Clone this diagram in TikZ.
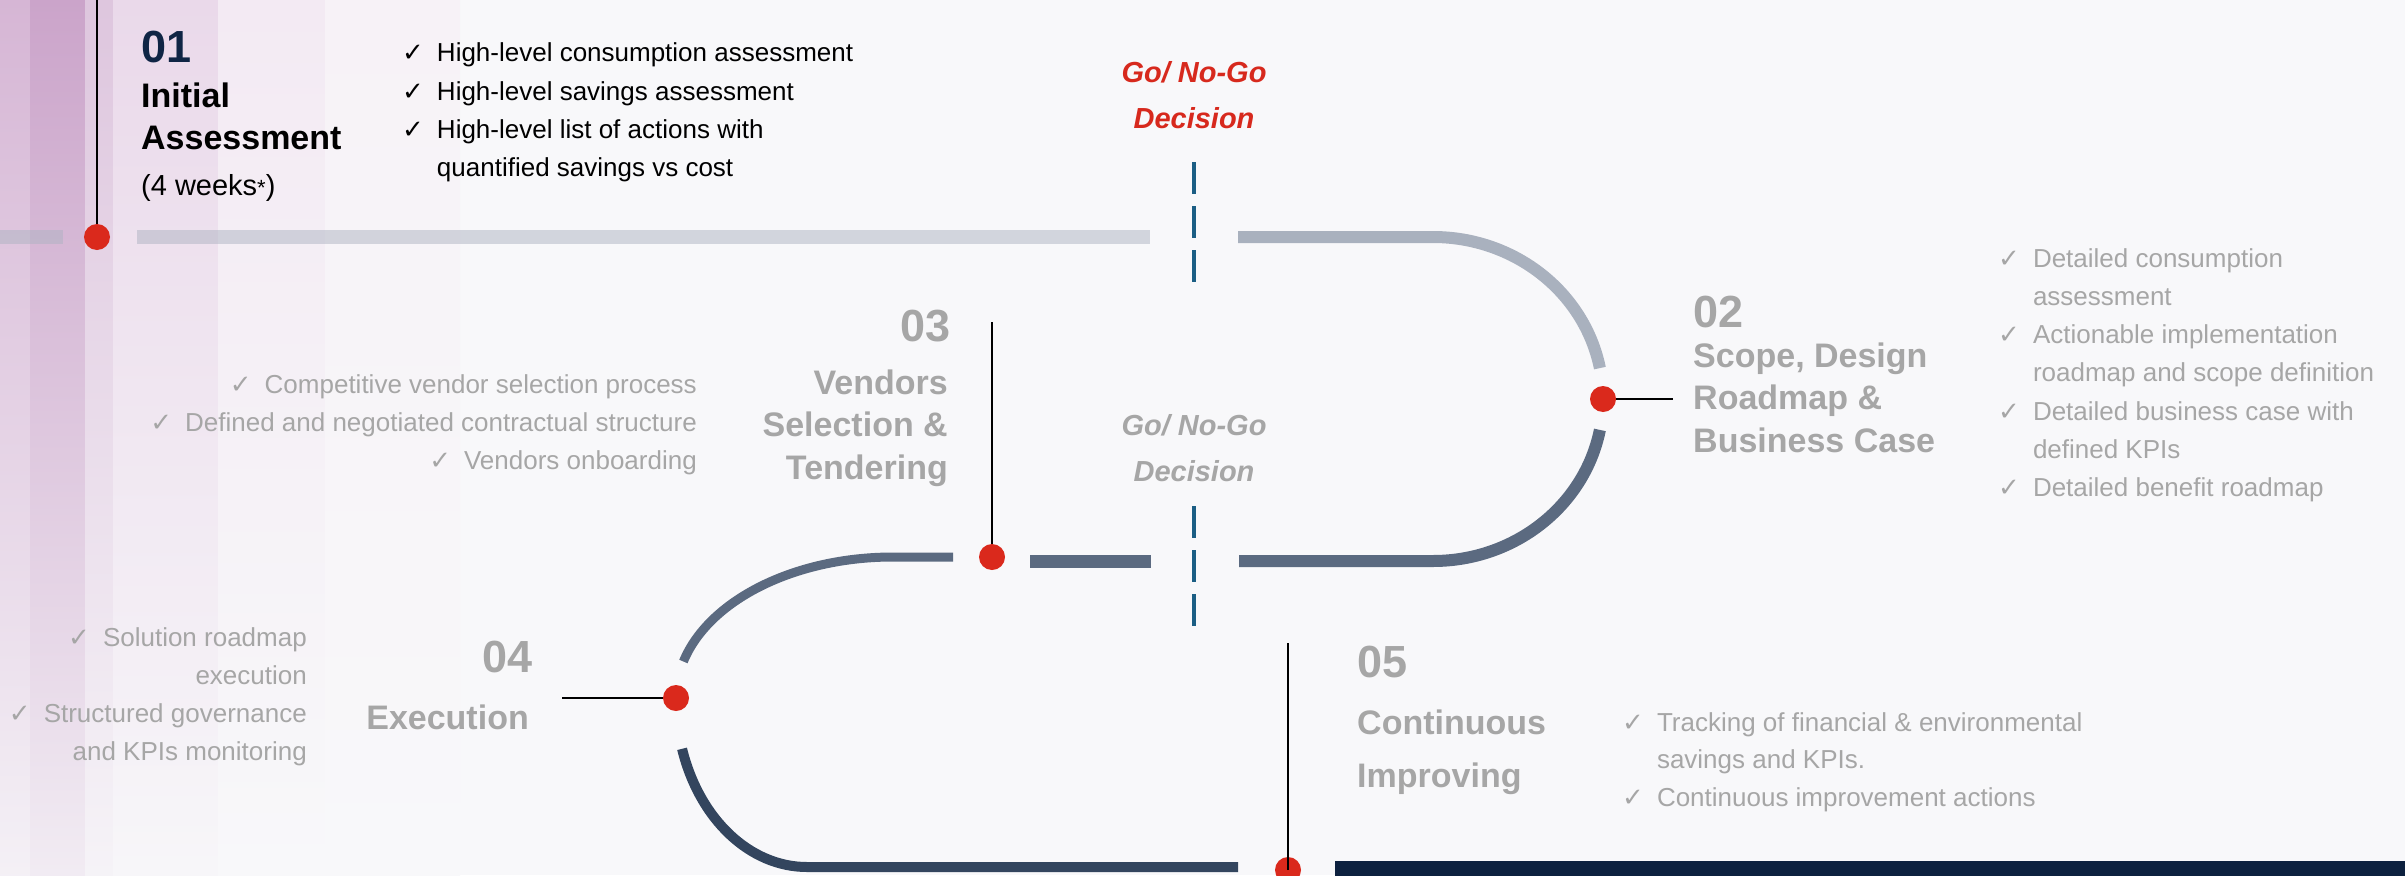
\documentclass[tikz,border=0pt]{standalone}
\usepackage{fontspec}
\setmainfont{Liberation Sans}
\newfontfamily\symfont{DejaVu Sans}
\usepackage{tikz}

\definecolor{paper}{HTML}{F8F8FA}
\definecolor{lilacA}{HTML}{D6B6D5}
\definecolor{lilacB}{HTML}{CBA4CA}
\definecolor{lilacC}{HTML}{DEC6DE}
\definecolor{lilacD}{HTML}{EAD9EA}
\definecolor{lilacE}{HTML}{F3EAF3}
\definecolor{lilacF}{HTML}{F7F2F7}
\definecolor{dotred}{HTML}{DA291C}
\definecolor{navy}{HTML}{0F2545}
\definecolor{barnavy}{HTML}{0D213F}
\definecolor{gateblue}{HTML}{1B5E84}
\definecolor{faint}{HTML}{AEB3C2}
\definecolor{steel}{HTML}{A9B1BE}
\definecolor{slate}{HTML}{5B6A80}
\definecolor{ink}{HTML}{33455E}
\definecolor{mute}{HTML}{A6A6A6}
\definecolor{nogo}{HTML}{D7291D}

\newcommand{\ticksym}{{\symfont\fontsize{26}{26}\selectfont ✓}}

\tikzset{
  reddot/.style={circle, fill=dotred, inner sep=0pt, minimum size=26pt},
  leader/.style={black, line width=2pt},
  track/.style={line width=#1},
  gate/.style={gateblue, line width=3.5pt, dash pattern=on 32pt off 12pt},
  num/.style={font=\fontsize{45}{50}\selectfont\bfseries, inner sep=0pt},
  ttl/.style={font=\fontsize{34}{42.5}\selectfont\bfseries, inner sep=0pt},
  txt/.style={font=\fontsize{26}{38.3}\selectfont, inner sep=0pt},
  gng/.style={font=\fontsize{29}{46}\selectfont\bfseries\itshape, inner sep=0pt, anchor=base}
}

\begin{document}
\begin{tikzpicture}[x=1pt,y=1pt]
\useasboundingbox (0,0) rectangle (2405,-875);
\fill[paper] (0,0) rectangle (2405,-875);
\shade[top color=lilacA, bottom color=lilacA!12!paper] (0,0) rectangle (30,-875);
\shade[top color=lilacB, bottom color=lilacB!15!paper] (30,0) rectangle (85,-875);
\shade[top color=lilacC, bottom color=lilacC!10!paper] (85,0) rectangle (113,-875);
\shade[top color=lilacD, bottom color=lilacD!6!paper] (113,0) rectangle (218,-875);
\shade[top color=lilacE, bottom color=paper] (218,0) rectangle (325,-875);
\shade[top color=lilacF, bottom color=paper] (325,0) rectangle (460,-875);

\draw[track=14pt, faint, opacity=.5] (0,-237) -- (63,-237);
\draw[track=14pt, faint, opacity=.5] (137,-237) -- (1150,-237);
\draw[track=12pt, steel] (1238,-237) -- (1433,-237) arc[start angle=90, end angle=11, x radius=170pt, y radius=162pt];
\draw[track=12pt, slate] ([shift={(-11:170pt and 162pt)}]1433,-399) arc[start angle=-11, end angle=-90, x radius=170pt, y radius=162pt] -- (1239,-561);
\draw[track=13pt, slate] (1030,-561) -- (1151,-561);
\draw[track=9pt, slate] (953,-557) -- (893,-557) arc[start angle=90, end angle=165, x radius=217pt, y radius=141pt];
\draw[track=10pt, ink] ([shift={(197.5:131pt and 169pt)}]807,-698) arc[start angle=197.5, end angle=270, x radius=131pt, y radius=169pt] -- (1238,-867);
\fill[barnavy] (1335,-861) rectangle (2405,-876);

\coordinate (ga) at (1194,-162);
\coordinate (gb) at (1194,-282);
\coordinate (gc) at (1194,-506);
\coordinate (gd) at (1194,-626);
\draw[gate] (ga) -- (gb);
\draw[gate] (gc) -- (gd);

\node[reddot] (d1) at (97,-237) {};
\node[reddot] (d2) at (1603,-399) {};
\node[reddot] (d3) at (992,-557) {};
\node[reddot] (d4) at (676,-698) {};
\node[reddot] (d5) at (1288,-870) {};
\coordinate (t1) at (97,0);
\coordinate (t2) at (1673,-399);
\coordinate (t3) at (992,-322);
\coordinate (t4) at (562,-698);
\coordinate (t5) at (1288,-643);
\draw[leader] (d1) -- (t1);
\draw[leader] (d2) -- (t2);
\draw[leader] (d3) -- (t3);
\draw[leader] (d4) -- (t4);
\draw[leader] (d5.center) -- (t5);

\node[gng, nogo] (g1) at (1194,-82) {\begin{tabular}[t]{@{}c@{}}Go/ No-Go\\Decision\end{tabular}};
\node[gng, mute] (g2) at (1194,-435) {\begin{tabular}[t]{@{}c@{}}Go/ No-Go\\Decision\end{tabular}};

\node[num, navy, anchor=base west] (n1) at (141,-63) {01};
\node[ttl, anchor=base west] (h1) at (141,-107) {\begin{tabular}[t]{@{}l@{}}Initial\\Assessment\end{tabular}};
\node[txt, anchor=base west, font=\fontsize{29}{38}\selectfont] (w1) at (141,-195) {(4 weeks{\fontsize{22}{22}\selectfont*})};
\node[txt, anchor=base west] (b1) at (402,-62) {\begin{tabular}[t]{@{}l@{\hspace{13pt}}l@{}}
\ticksym & High-level consumption assessment\\
\ticksym & High-level savings assessment\\
\ticksym & High-level list of actions with\\
 & quantified savings vs cost\end{tabular}};

\node[num, mute, anchor=base west] (n2) at (1693,-327) {02};
\node[ttl, mute, anchor=base west] (h2) at (1693,-367) {\begin{tabular}[t]{@{}l@{}}Scope, Design\\Roadmap \&\\Business Case\end{tabular}};
\node[txt, mute, anchor=base west] (b2) at (1998,-267) {\begin{tabular}[t]{@{}l@{\hspace{13pt}}l@{}}
\ticksym & Detailed consumption\\
 & assessment\\
\ticksym & Actionable implementation\\
 & roadmap and scope definition\\
\ticksym & Detailed business case with\\
 & defined KPIs\\
\ticksym & Detailed benefit roadmap\end{tabular}};

\node[num, mute, anchor=base east] (n3) at (951,-341) {03};
\node[ttl, mute, anchor=base east] (h3) at (948,-394) {\begin{tabular}[t]{@{}r@{}}Vendors\\Selection \&\\Tendering\end{tabular}};
\node[txt, mute, anchor=base east] (b3) at (697,-393) {\begin{tabular}[t]{@{}r@{}}
\ticksym\hspace{13pt}Competitive vendor selection process\\
\ticksym\hspace{13pt}Defined and negotiated contractual structure\\
\ticksym\hspace{13pt}Vendors onboarding\end{tabular}};

\node[num, mute, anchor=base east] (n4) at (533,-672) {04};
\node[ttl, mute, anchor=base east] (h4) at (529,-729) {Execution};
\node[txt, mute, anchor=base east] (b4) at (307,-646) {\begin{tabular}[t]{@{}r@{}}
\ticksym\hspace{13pt}Solution roadmap\\
execution\\
\ticksym\hspace{13pt}Structured governance\\
and KPIs monitoring\end{tabular}};

\node[num, mute, anchor=base west] (n5) at (1357,-677) {05};
\node[ttl, mute, anchor=base west, font=\fontsize{34}{53}\selectfont\bfseries] (h5) at (1357,-734) {\begin{tabular}[t]{@{}l@{}}Continuous\\Improving\end{tabular}};
\node[txt, mute, anchor=base west, font=\fontsize{26}{37.5}\selectfont] (b5) at (1622,-731) {\begin{tabular}[t]{@{}l@{\hspace{13pt}}l@{}}
\ticksym & Tracking of financial \& environmental\\
 & savings and KPIs.\\
\ticksym & Continuous improvement actions\end{tabular}};
\end{tikzpicture}
\end{document}
